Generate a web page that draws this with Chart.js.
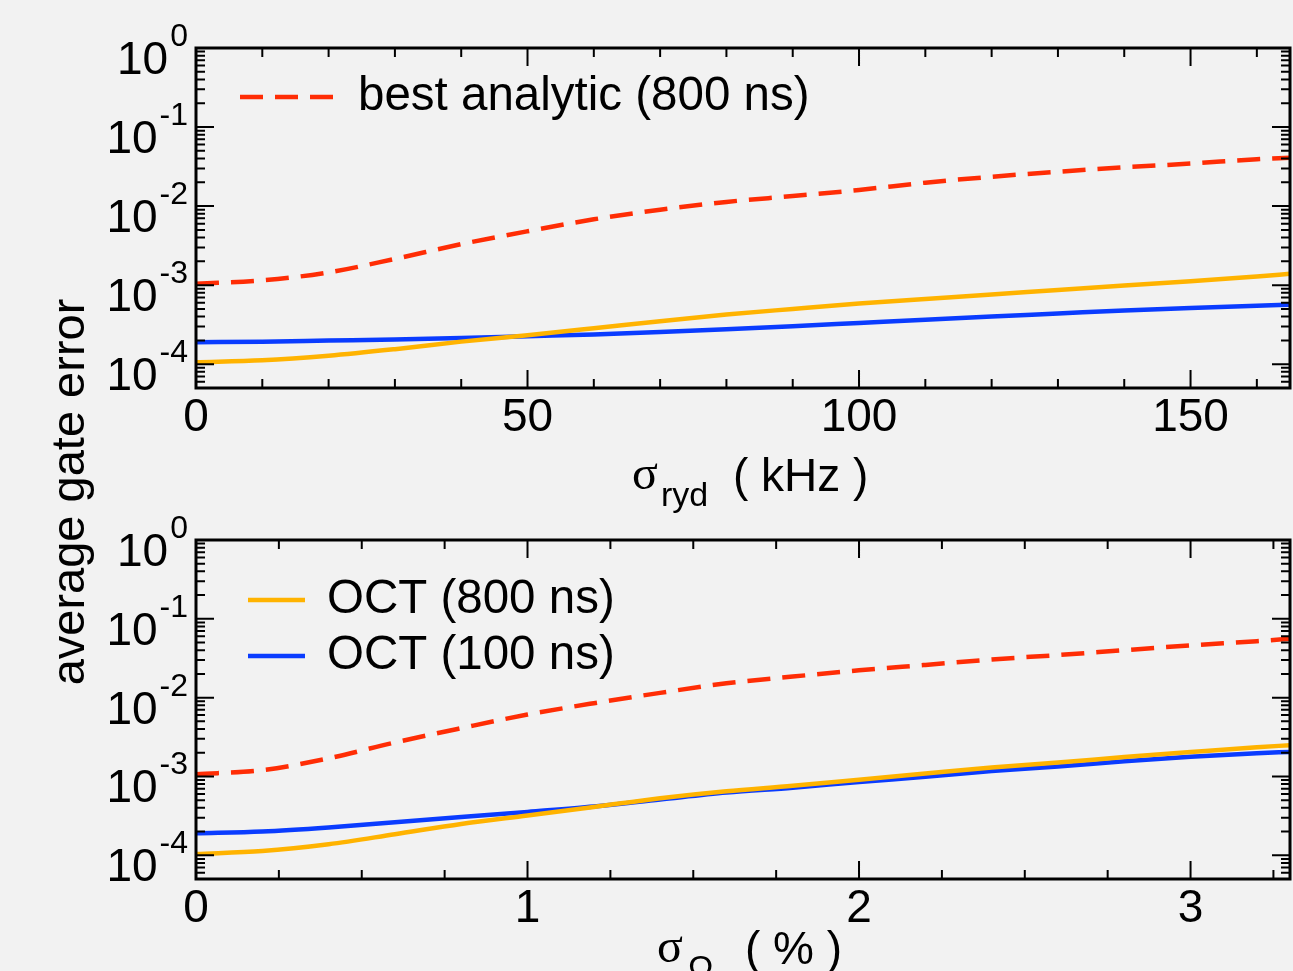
<!DOCTYPE html>
<html><head><meta charset="utf-8">
<script src="https://cdn.jsdelivr.net/npm/chart.js@4.4.1/dist/chart.umd.min.js"></script>
<style>
html,body{margin:0;padding:0;background:#f2f2f2;}
#wrap{position:relative;width:1293px;height:971px;overflow:hidden;background:#f2f2f2;}
canvas{position:absolute;left:0;top:0;}
</style></head><body>
<div id="wrap"><canvas id="c1" width="1293" height="971"></canvas><canvas id="c2" width="1293" height="971"></canvas></div>
<script>
// ---- top panel: sigma_ryd (kHz)
const rydKHz       = [0, 10, 20, 30, 40, 50, 60, 70, 80, 90, 100, 110, 120, 130, 140, 150, 160, 165];
const rydAnalytic  = [1.04e-3, 1.15e-3, 1.45e-3, 2.15e-3, 3.3e-3, 4.8e-3, 6.8e-3, 9.0e-3, 0.0113, 0.0134, 0.0160, 0.0198, 0.0235, 0.0272, 0.031, 0.0345, 0.0392, 0.041];
const rydOct800    = [1.06e-4, 1.12e-4, 1.28e-4, 1.55e-4, 1.93e-4, 2.33e-4, 2.85e-4, 3.5e-4, 4.25e-4, 5.0e-4, 5.85e-4, 6.7e-4, 7.6e-4, 8.7e-4, 9.9e-4, 1.12e-3, 1.29e-3, 1.39e-3];
const rydOct100    = [1.9e-4, 1.93e-4, 1.99e-4, 2.05e-4, 2.14e-4, 2.26e-4, 2.38e-4, 2.55e-4, 2.77e-4, 3.03e-4, 3.33e-4, 3.66e-4, 4.02e-4, 4.38e-4, 4.78e-4, 5.15e-4, 5.5e-4, 5.65e-4];
// ---- bottom panel: sigma_Omega (%)
const omegaPct      = [0, 0.2, 0.4, 0.6, 0.8, 1.0, 1.2, 1.4, 1.6, 1.8, 2.0, 2.2, 2.4, 2.6, 2.8, 3.0, 3.2, 3.3];
const omegaAnalytic = [1.07e-3, 1.2e-3, 1.7e-3, 2.7e-3, 4.1e-3, 6.1e-3, 8.5e-3, 0.0115, 0.0152, 0.0185, 0.0222, 0.026, 0.0305, 0.0347, 0.040, 0.046, 0.052, 0.0558];
const omegaOct800   = [1.04e-4, 1.13e-4, 1.38e-4, 1.85e-4, 2.5e-4, 3.2e-4, 4.1e-4, 5.3e-4, 6.5e-4, 7.6e-4, 9.1e-4, 1.09e-3, 1.3e-3, 1.5e-3, 1.76e-3, 2.04e-3, 2.35e-3, 2.49e-3];
const omegaOct100   = [1.9e-4, 2.0e-4, 2.25e-4, 2.62e-4, 3.05e-4, 3.55e-4, 4.15e-4, 5.1e-4, 6.25e-4, 7.2e-4, 8.5e-4, 9.9e-4, 1.17e-3, 1.34e-3, 1.56e-3, 1.78e-3, 1.97e-3, 2.05e-3];
// ---- ticks and labels
const yTickExponents = [0, -1, -2, -3, -4];
const xTickLabelsTop = [0, 50, 100, 150];
const xTickLabelsBottom = [0, 1, 2, 3];
const seriesLabels = ['best analytic (800 ns)', 'OCT (800 ns)', 'OCT (100 ns)'];
const yAxisTitle = 'average gate error';

const RED = '#ff2d05', ORANGE = '#ffb300', BLUE = '#0a3cff';
const SANS = '"Liberation Sans", Arial, Helvetica, sans-serif';
const SERIF = '"Liberation Serif", "Times New Roman", serif';

function pts(xs, ys) { return xs.map((x, i) => ({x: x, y: ys[i]})); }

const framePlugin = {
  id: 'frame',
  afterDatasetsDraw(chart) {
    const o = chart.options.plugins.frame;
    const ctx = chart.ctx;
    const {left, right, top, bottom} = chart.chartArea;
    const xs = chart.scales.x, ys = chart.scales.y;
    ctx.save();
    ctx.strokeStyle = '#000';
    ctx.lineWidth = 2;
    ctx.beginPath();
    const n = Math.round((o.xMax - o.xMin) / o.xMinorStep);
    for (let i = 0; i <= n; i++) {
      const v = o.xMin + i * o.xMinorStep;
      if (v > o.xMax + 1e-9) break;
      const px = xs.getPixelForValue(v);
      const r = v / o.xMajorStep;
      const L = Math.abs(r - Math.round(r)) < 1e-6 ? 18 : 9;
      ctx.moveTo(px, bottom); ctx.lineTo(px, bottom - L);
      ctx.moveTo(px, top); ctx.lineTo(px, top + L);
    }
    for (let e = -6; e <= 0; e++) {
      for (let k = 1; k <= 9; k++) {
        const v = k * Math.pow(10, e);
        if (v < o.yMin * 0.999 || v > o.yMax * 1.001) continue;
        const py = ys.getPixelForValue(v);
        const L = k === 1 ? 18 : 9;
        ctx.moveTo(left, py); ctx.lineTo(left + L, py);
        ctx.moveTo(right, py); ctx.lineTo(right - L, py);
      }
    }
    ctx.stroke();
    ctx.lineWidth = 3;
    ctx.strokeRect(left, top, right - left, bottom - top);

    // y tick labels 10^e
    ctx.fillStyle = '#000';
    ctx.textBaseline = 'alphabetic';
    ctx.textAlign = 'right';
    yTickExponents.forEach(e => {
      const py = ys.getPixelForValue(Math.pow(10, e));
      const ex = e === 0 ? '0' : '-' + Math.abs(e);
      ctx.font = '32px ' + SANS;
      const w = ctx.measureText(ex).width;
      ctx.fillText(ex, 188, py - 2);
      ctx.font = '46px ' + SANS;
      ctx.fillText('10', 188 - w - 2, py + 26);
    });
    // x tick labels
    ctx.textAlign = 'center';
    ctx.font = '46px ' + SANS;
    o.xLabels.forEach(v => {
      ctx.fillText(String(v), xs.getPixelForValue(v), bottom + 43);
    });
    // x title with subscript
    const t = o.xTitle;
    ctx.textAlign = 'left';
    ctx.font = '48px ' + SERIF;
    ctx.fillText('σ', t.x, t.y);
    ctx.font = '34px ' + SANS;
    ctx.fillText(t.sub, t.subX, t.y + 17);
    ctx.font = '46px ' + SANS;
    ctx.fillText(t.rest, t.restX, t.y + 2);
    // y title
    if (o.yTitle) {
      ctx.save();
      ctx.translate(84, 492);
      ctx.rotate(-Math.PI / 2);
      ctx.textAlign = 'center';
      ctx.font = '47px ' + SANS;
      ctx.fillText(yAxisTitle, 0, 0);
      ctx.restore();
    }
    // legend
    o.legend.forEach(it => {
      const ds = chart.data.datasets[it.index];
      ctx.save();
      ctx.strokeStyle = ds.borderColor;
      ctx.lineWidth = 4.5;
      ctx.setLineDash(ds.borderDash || []);
      ctx.beginPath();
      ctx.moveTo(it.x0, it.y); ctx.lineTo(it.x1, it.y);
      ctx.stroke();
      ctx.restore();
      ctx.textAlign = 'left';
      ctx.textBaseline = 'middle';
      ctx.font = '47.5px ' + SANS;
      ctx.fillText(ds.label, it.tx, it.y);
      ctx.textBaseline = 'alphabetic';
    });
    ctx.restore();
  }
};

function makeChart(id, xs, an, o8, o1, pad, frameOpts) {
  return new Chart(document.getElementById(id), {
    type: 'line',
    data: {
      datasets: [
        {label: seriesLabels[0], data: pts(xs, an), borderColor: RED, borderWidth: 4.5, borderDash: [23, 12], pointRadius: 0, cubicInterpolationMode: 'monotone', fill: false},
        {label: seriesLabels[1], data: pts(xs, o8), borderColor: ORANGE, borderWidth: 4.5, pointRadius: 0, cubicInterpolationMode: 'monotone', fill: false},
        {label: seriesLabels[2], data: pts(xs, o1), borderColor: BLUE, borderWidth: 4.5, pointRadius: 0, cubicInterpolationMode: 'monotone', fill: false}
      ]
    },
    options: {
      responsive: false,
      animation: false,
      devicePixelRatio: 1,
      layout: {padding: pad},
      scales: {
        x: {type: 'linear', display: false, min: frameOpts.xMin, max: frameOpts.xMax},
        y: {type: 'logarithmic', display: false, min: frameOpts.yMin, max: frameOpts.yMax}
      },
      plugins: {legend: {display: false}, tooltip: {enabled: false}, frame: frameOpts}
    },
    plugins: [framePlugin]
  });
}

makeChart('c1', rydKHz, rydAnalytic, rydOct800, rydOct100,
  {left: 196, right: 3, top: 48, bottom: 971 - 388},
  {xMin: 0, xMax: 165, xMinorStep: 10, xMajorStep: 50, yMin: 5e-5, yMax: 1,
   xLabels: xTickLabelsTop, yTitle: true,
   xTitle: {x: 632, y: 489, sub: 'ryd', subX: 661, rest: '( kHz )', restX: 733},
   legend: [{index: 0, x0: 240, x1: 333, y: 97, tx: 358}]});

makeChart('c2', omegaPct, omegaAnalytic, omegaOct800, omegaOct100,
  {left: 196, right: 3, top: 540, bottom: 971 - 879},
  {xMin: 0, xMax: 3.3, xMinorStep: 0.25, xMajorStep: 1, yMin: 5e-5, yMax: 1,
   xLabels: xTickLabelsBottom, yTitle: false,
   xTitle: {x: 657, y: 962, sub: 'Ω', subX: 688, rest: '( % )', restX: 745},
   legend: [{index: 1, x0: 248, x1: 305, y: 600, tx: 327}, {index: 2, x0: 248, x1: 305, y: 656, tx: 327}]});
</script>
</body></html>
